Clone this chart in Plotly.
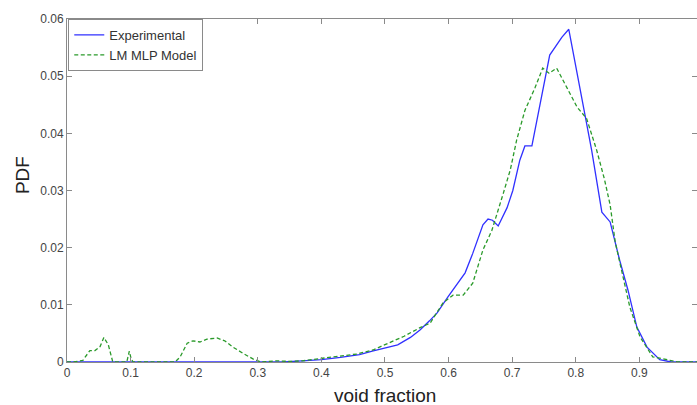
import plotly.graph_objects as go

exp_x = [0, 0.34, 0.37, 0.40, 0.43, 0.46, 0.48, 0.50, 0.52, 0.54, 0.555, 0.57, 0.582, 0.599,
         0.613, 0.626, 0.638, 0.654, 0.662, 0.669, 0.678, 0.692, 0.701, 0.712, 0.720, 0.731,
         0.759, 0.778, 0.789, 0.803, 0.817, 0.825, 0.841, 0.854, 0.869, 0.882, 0.896, 0.912,
         0.932, 0.95, 1.0]
exp_y = [0, 0, 0.0002, 0.0004, 0.0008, 0.0013, 0.0019, 0.0024, 0.003, 0.0043, 0.0056, 0.0072,
         0.0086, 0.0114, 0.0135, 0.0156, 0.019, 0.024, 0.025, 0.0248, 0.0238, 0.027, 0.030,
         0.0353, 0.0378, 0.0378, 0.0537, 0.0568, 0.0582, 0.050, 0.0423, 0.037, 0.0262, 0.0245,
         0.0178, 0.0126, 0.0061, 0.0026, 0.0004, 0, 0]

mlp_x = [0, 0.01, 0.025, 0.036, 0.044, 0.052, 0.058, 0.065, 0.072, 0.094, 0.098, 0.101, 0.104,
         0.17, 0.178, 0.189, 0.198, 0.209, 0.22, 0.236, 0.248, 0.261, 0.277, 0.293, 0.305,
         0.33, 0.35, 0.37, 0.398, 0.429, 0.456, 0.481, 0.508, 0.53, 0.555, 0.571, 0.591,
         0.607, 0.623, 0.638, 0.654, 0.668, 0.686, 0.697, 0.707, 0.72, 0.736, 0.748, 0.758,
         0.770, 0.786, 0.802, 0.817, 0.833, 0.845, 0.854, 0.862, 0.874, 0.885, 0.901, 0.921,
         0.948, 0.96, 1.0]
mlp_y = [0, 0, 0.0003, 0.002, 0.002, 0.0027, 0.0043, 0.003, 0, 0, 0.0019, 0.0005, 0,
         0, 0.0009, 0.0033, 0.0037, 0.0035, 0.004, 0.0042, 0.0037, 0.0026, 0.0015, 0.0005, 0,
         0.0002, 0.0001, 0.0002, 0.0006, 0.001, 0.0014, 0.0021, 0.0035, 0.0045, 0.006, 0.0068,
         0.0103, 0.0117, 0.0117, 0.0138, 0.0196, 0.023, 0.0295, 0.0336, 0.0388, 0.044, 0.048,
         0.0514, 0.0505, 0.0514, 0.048, 0.0446, 0.0426, 0.037, 0.032, 0.0275, 0.021, 0.0149,
         0.0096, 0.0044, 0.0009, 0.0003, 0, 0]

x_ticks = [0, 0.1, 0.2, 0.3, 0.4, 0.5, 0.6, 0.7, 0.8, 0.9]
x_tick_text = ["0", "0.1", "0.2", "0.3", "0.4", "0.5", "0.6", "0.7", "0.8", "0.9"]
y_ticks = [0, 0.01, 0.02, 0.03, 0.04, 0.05, 0.06]
y_tick_text = ["0", "0.01", "0.02", "0.03", "0.04", "0.05", "0.06"]

FONT = "Liberation Sans, Arial, sans-serif"
AX = "#8a8a8a"

fig = go.Figure()
fig.add_trace(go.Scatter(x=exp_x, y=exp_y, mode="lines", name="Experimental",
                         line=dict(color="#3030ff", width=1.3)))
fig.add_trace(go.Scatter(x=mlp_x, y=mlp_y, mode="lines", name="LM MLP Model",
                         line=dict(color="#2a9a2a", width=1.3, dash="4px,2.5px")))

fig.update_layout(
    width=697, height=405,
    margin=dict(l=67, r=0, t=19, b=43),
    paper_bgcolor="white", plot_bgcolor="white",
    font=dict(family=FONT, color="#333333", size=12),
    showlegend=True,
    legend=dict(x=0.002, y=1, xanchor="left", yanchor="top",
                bgcolor="white", bordercolor=AX, borderwidth=1,
                font=dict(size=13, color="#333333", family=FONT),
                tracegroupgap=0, itemwidth=30),
    xaxis=dict(range=[0, 0.9906], tickvals=x_ticks, ticktext=x_tick_text,
               showgrid=False, zeroline=False, showline=True, linecolor=AX, linewidth=1,
               mirror="ticks", ticks="inside", ticklen=5, tickcolor=AX,
               tickfont=dict(size=12, color="#444444")),
    yaxis=dict(range=[0, 0.06], tickvals=y_ticks, ticktext=y_tick_text,
               showgrid=False, zeroline=False, showline=True, linecolor=AX, linewidth=1,
               mirror="ticks", ticks="inside", ticklen=5, tickcolor=AX,
               tickfont=dict(size=12, color="#444444")),
    annotations=[
        dict(text="void fraction", xref="paper", yref="paper", x=0.5045, y=0,
             yshift=-33, xanchor="center", yanchor="middle", showarrow=False,
             font=dict(size=19, color="#222222", family=FONT)),
        dict(text="PDF", xref="paper", yref="paper", x=0, y=0.545, xshift=-45,
             xanchor="center", yanchor="middle", textangle=-90, showarrow=False,
             font=dict(size=19, color="#222222", family=FONT)),
    ],
)

fig.write_html("out.html")
